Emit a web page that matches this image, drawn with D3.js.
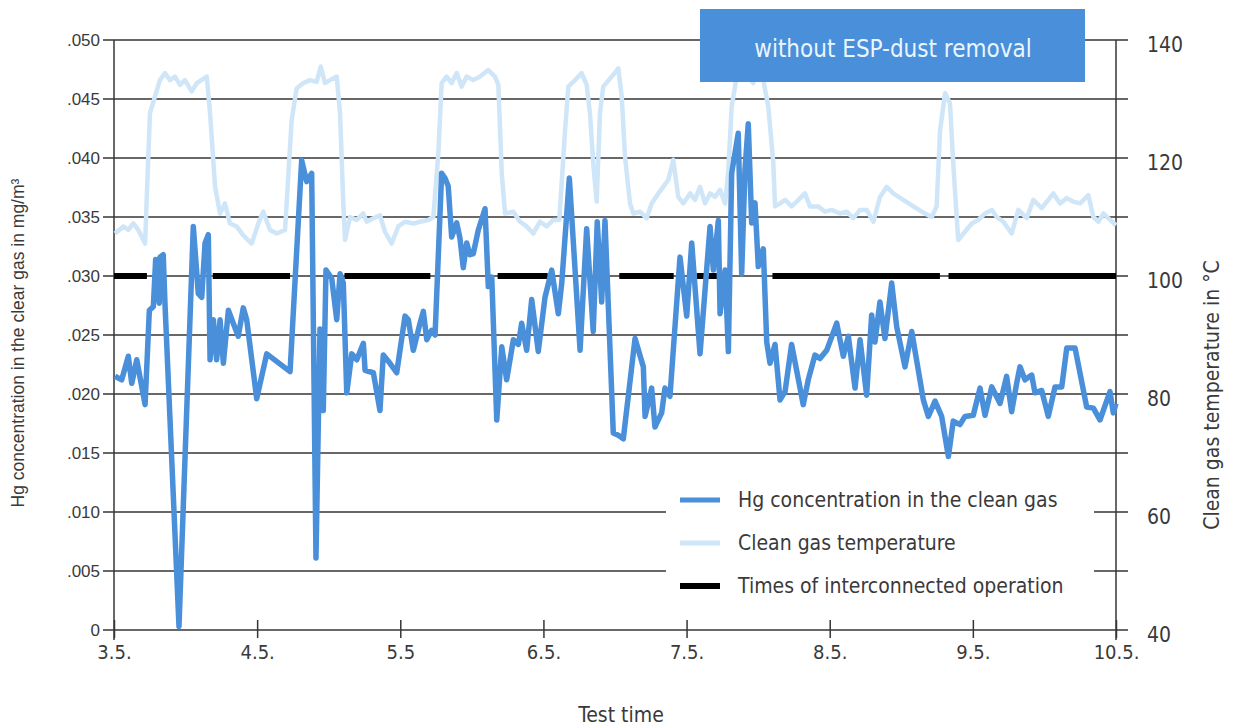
<!DOCTYPE html>
<html>
<head>
<meta charset="utf-8">
<script src="https://cdn.jsdelivr.net/npm/d3@7"></script>
<style>
  html, body { margin: 0; padding: 0; background: #fff; }
  .narrow { font-family: "Liberation Sans Narrow", "Arial Narrow", "DejaVu Sans Condensed", sans-serif; }
  .plain { font-family: "Liberation Sans", Arial, sans-serif; }
</style>
</head>
<body>
<div id="chart"></div>
<script>
// days of May (3.0 = 3 May 00:00)
const hgTime = [3.007, 3.054, 3.100, 3.124, 3.159, 3.217, 3.247, 3.275, 3.291, 3.316, 3.321, 3.344, 3.356, 3.454,
  3.554, 3.589, 3.613, 3.636, 3.659, 3.671, 3.694, 3.717, 3.741, 3.764, 3.799, 3.833, 3.868, 3.903, 3.927, 3.997,
  4.067, 4.230, 4.311, 4.346, 4.381, 4.411, 4.439, 4.462, 4.481, 4.521, 4.556, 4.579, 4.602, 4.626, 4.661, 4.696,
  4.742, 4.754, 4.812, 4.858, 4.881, 4.928, 4.975, 5.033, 5.056, 5.091, 5.138, 5.161, 5.185, 5.219, 5.243, 5.289,
  5.312, 5.335, 5.359, 5.394, 5.417, 5.440, 5.464, 5.487, 5.510, 5.545, 5.592, 5.615, 5.639, 5.674, 5.709, 5.743,
  5.790, 5.825, 5.848, 5.883, 5.918, 5.964, 6.011, 6.058, 6.104, 6.128, 6.181, 6.256, 6.302, 6.348, 6.376, 6.407,
  6.430, 6.488, 6.523, 6.558, 6.640, 6.698, 6.710, 6.756, 6.779, 6.826, 6.849, 6.884, 6.954, 7.001, 7.036, 7.094,
  7.164, 7.187, 7.222, 7.234, 7.269, 7.292, 7.315, 7.361, 7.385, 7.408, 7.431, 7.455, 7.478, 7.501, 7.536, 7.560,
  7.583, 7.618, 7.653, 7.688, 7.734, 7.815, 7.850, 7.897, 7.932, 7.979, 8.049, 8.095, 8.130, 8.177, 8.212, 8.258,
  8.293, 8.316, 8.351, 8.386, 8.433, 8.468, 8.526, 8.573, 8.654, 8.689, 8.736, 8.782, 8.829, 8.863, 8.910, 8.945,
  9.003, 9.050, 9.085, 9.132, 9.190, 9.236, 9.271, 9.306, 9.329, 9.364, 9.411, 9.434, 9.481, 9.527, 9.574, 9.621,
  9.656, 9.714, 9.795, 9.842, 9.888, 9.958, 9.981, 10.0];

// Hg in mg/m3
const hgValue = [0.0215, 0.0212, 0.0232, 0.0209, 0.0229, 0.0191, 0.0271, 0.0274, 0.0314, 0.0277, 0.0316, 0.0318, 0.0277, 0.0003,
  0.0342, 0.0285, 0.0282, 0.0328, 0.0335, 0.0229, 0.0263, 0.0229, 0.0263, 0.0226, 0.0271, 0.0260, 0.0249, 0.0273, 0.0263, 0.0196,
  0.0234, 0.0219, 0.0398, 0.0380, 0.0387, 0.0061, 0.0255, 0.0186, 0.0305, 0.0298, 0.0263, 0.0302, 0.0294, 0.0201, 0.0234, 0.0229,
  0.0243, 0.0220, 0.0218, 0.0186, 0.0233, 0.0226, 0.0218, 0.0266, 0.0263, 0.0237, 0.0260, 0.0270, 0.0246, 0.0254, 0.0250, 0.0387,
  0.0383, 0.0376, 0.0333, 0.0345, 0.0332, 0.0307, 0.0328, 0.0318, 0.0319, 0.0339, 0.0357, 0.0291, 0.0299, 0.0178, 0.0240, 0.0212,
  0.0246, 0.0242, 0.0260, 0.0237, 0.0280, 0.0236, 0.0282, 0.0305, 0.0268, 0.0294, 0.0383, 0.0237, 0.0340, 0.0253, 0.0346, 0.0278,
  0.0347, 0.0167, 0.0165, 0.0162, 0.0247, 0.0223, 0.0181, 0.0205, 0.0172, 0.0184, 0.0205, 0.0198, 0.0316, 0.0266, 0.0328, 0.0234,
  0.0342, 0.0305, 0.0347, 0.0268, 0.0305, 0.0236, 0.0387, 0.0421, 0.0302, 0.0390, 0.0429, 0.0345, 0.0362, 0.0308, 0.0323, 0.0244,
  0.0226, 0.0242, 0.0195, 0.0202, 0.0242, 0.0191, 0.0212, 0.0233, 0.0230, 0.0237, 0.0260, 0.0232, 0.0249, 0.0205, 0.0246, 0.0199,
  0.0267, 0.0244, 0.0278, 0.0247, 0.0294, 0.0257, 0.0223, 0.0253, 0.0195, 0.0181, 0.0194, 0.0181, 0.0147, 0.0177, 0.0174, 0.0181,
  0.0182, 0.0205, 0.0182, 0.0206, 0.0192, 0.0215, 0.0185, 0.0209, 0.0223, 0.0212, 0.0216, 0.0201, 0.0203, 0.0181, 0.0206, 0.0206,
  0.0239, 0.0239, 0.0189, 0.0188, 0.0178, 0.0202, 0.0184, 0.0192];

const tempTime = [3.007, 3.065, 3.100, 3.135, 3.170, 3.217, 3.251, 3.286, 3.321, 3.356, 3.391, 3.426, 3.461, 3.496,
  3.543, 3.578, 3.648, 3.671, 3.706, 3.741, 3.775, 3.810, 3.857, 3.903, 3.962, 4.008, 4.043, 4.090, 4.137, 4.195,
  4.241, 4.276, 4.322, 4.369, 4.416, 4.444, 4.474, 4.509, 4.556, 4.579, 4.602, 4.614, 4.649, 4.696, 4.742, 4.765,
  4.812, 4.858, 4.893, 4.940, 4.986, 5.033, 5.091, 5.138, 5.196, 5.231, 5.266, 5.289, 5.324, 5.359, 5.394, 5.429,
  5.464, 5.510, 5.557, 5.615, 5.662, 5.685, 5.709, 5.732, 5.790, 5.836, 5.883, 5.929, 5.976, 6.023, 6.069, 6.111,
  6.151, 6.174, 6.221, 6.267, 6.302, 6.325, 6.348, 6.372, 6.395, 6.418, 6.488, 6.523, 6.547, 6.570, 6.605, 6.628,
  6.675, 6.721, 6.756, 6.803, 6.837, 6.872, 6.907, 6.942, 6.977, 7.024, 7.059, 7.094, 7.129, 7.164, 7.199, 7.234,
  7.269, 7.292, 7.315, 7.350, 7.396, 7.431, 7.466, 7.508, 7.536, 7.571, 7.606, 7.618, 7.653, 7.688, 7.734, 7.769,
  7.827, 7.862, 7.920, 7.967, 8.014, 8.072, 8.119, 8.165, 8.212, 8.258, 8.305, 8.351, 8.398, 8.444, 8.514, 8.584,
  8.643, 8.713, 8.747, 8.771, 8.806, 8.840, 8.863, 8.887, 8.898, 8.945, 8.992, 9.038, 9.085, 9.132, 9.167, 9.213,
  9.271, 9.318, 9.376, 9.422, 9.481, 9.527, 9.562, 9.609, 9.656, 9.702, 9.749, 9.807, 9.842, 9.877, 9.912, 9.946, 10.0];

// clean gas temperature in degC
const tempValue = [107.2, 108.4, 107.8, 108.9, 107.8, 105.5, 127.6, 130.4, 133.2, 134.4, 133.2, 133.8, 132.4, 133.2,
  131.3, 132.7, 133.8, 127.6, 115.1, 110.6, 112.3, 108.9, 108.4, 106.9, 105.5, 108.9, 110.9, 107.8, 107.2, 107.8,
  126.4, 131.8, 132.7, 133.2, 132.9, 135.5, 132.7, 133.2, 133.8, 127.6, 112.3, 106.1, 110.0, 109.5, 110.6, 109.2,
  109.8, 110.3, 107.5, 105.5, 108.4, 109.2, 108.9, 109.2, 109.5, 110.0, 120.8, 132.7, 133.8, 132.7, 134.4, 132.1,
  133.8, 133.2, 133.8, 134.9, 133.8, 132.4, 117.4, 110.6, 110.9, 109.2, 108.4, 107.2, 109.2, 108.4, 109.5, 109.5,
  124.7, 132.1, 133.2, 134.4, 132.4, 127.6, 119.1, 112.6, 127.6, 132.1, 134.1, 135.2, 130.4, 120.2, 112.3, 110.6,
  110.9, 109.8, 112.3, 114.0, 115.1, 116.3, 119.7, 113.4, 112.3, 114.0, 112.9, 115.1, 112.3, 114.0, 113.4, 114.6,
  112.3, 118.0, 128.7, 133.8, 136.6, 133.8, 132.7, 135.5, 133.2, 128.7, 119.1, 111.8, 112.3, 112.9, 111.8, 112.6,
  114.0, 111.8, 111.8, 110.9, 111.2, 110.6, 110.9, 109.8, 111.2, 111.2, 109.2, 113.4, 115.1, 114.0, 112.9, 111.8,
  110.9, 110.0, 111.8, 124.7, 131.0, 129.3, 119.1, 110.0, 106.1, 107.5, 108.9, 109.5, 110.6, 111.2, 110.0, 109.2,
  107.2, 111.2, 109.8, 112.9, 111.5, 112.9, 114.0, 112.3, 113.2, 112.6, 112.3, 113.7, 110.0, 109.2, 110.6, 109.8, 108.6];

// times of interconnected operation
const opStart = [3.0, 3.69, 4.61, 5.68, 6.53, 7.07, 7.60, 8.83];
const opEnd = [3.23, 4.23, 5.21, 6.03, 6.91, 7.23, 8.77, 10.0];

const xTicks = [3, 4, 5, 6, 7, 8, 9, 10];
const xTickLabels = ['3.5.', '4.5.', '5.5', '6.5.', '7.5.', '8.5.', '9.5.', '10.5.'];
const hgTicks = [0, 0.005, 0.010, 0.015, 0.020, 0.025, 0.030, 0.035, 0.040, 0.045, 0.050];
const hgTickLabels = ['0', '.005', '.010', '.015', '.020', '.025', '.030', '.035', '.040', '.045', '.050'];
const tempTicks = [40, 50, 60, 70, 80, 90, 100, 110, 120, 130, 140];
const tempTickLabels = ['40', '', '60', '', '80', '', '100', '', '120', '', '140'];

const legendNames = ['Hg concentration in the clean gas', 'Clean gas temperature', 'Times of interconnected operation'];

const hgColor = '#4a8fda', tempColor = '#cfe5f8', opColor = '#000000', gridColor = '#363636';

const margin = {left: 114, right: 121, top: 40, bottom: 97};
const width = 1237 - margin.left - margin.right,
  height = 727 - margin.top - margin.bottom;

const svg = d3.select('#chart').append('svg')
  .attr('width', 1237)
  .attr('height', 727);

const g = svg.append('g')
  .attr('transform', `translate(${margin.left},${margin.top})`);

const x = d3.scaleLinear().domain([3, 10]).range([0, width]);
const yHg = d3.scaleLinear().domain([0, 0.05]).range([height, 0]);
const yTemp = d3.scaleLinear().domain([40, 140]).range([height, 0]);

// horizontal grid, running through both axes
g.append('g')
  .selectAll('line')
  .data(hgTicks)
  .enter()
  .append('line')
  .attr('x1', -11)
  .attr('x2', width + 12)
  .attr('y1', d => yHg(d))
  .attr('y2', d => yHg(d))
  .attr('stroke', gridColor)
  .attr('stroke-width', 1.5);

// left axis
const leftAxis = g.append('g')
  .attr('class', 'plain')
  .call(d3.axisLeft(yHg).tickValues(hgTicks).tickSize(0).tickPadding(14)
    .tickFormat((d, i) => hgTickLabels[i]));
leftAxis.select('.domain').remove();
leftAxis.selectAll('text')
  .style('font-size', '17px')
  .attr('fill', '#3a3a3a');

// right axis
const rightAxis = g.append('g')
  .attr('class', 'narrow')
  .attr('transform', `translate(${width},0)`)
  .call(d3.axisRight(yTemp).tickValues(tempTicks).tickSize(0).tickPadding(31)
    .tickFormat((d, i) => tempTickLabels[i]));
rightAxis.select('.domain').remove();
rightAxis.selectAll('text')
  .attr('dy', '0.55em')
  .style('font-size', '21px')
  .attr('fill', '#3a3a3a');

// bottom axis
const bottomAxis = g.append('g')
  .attr('class', 'narrow')
  .attr('transform', `translate(0,${height})`)
  .call(d3.axisBottom(x).tickValues(xTicks).tickSizeOuter(0).tickPadding(9)
    .tickFormat((d, i) => xTickLabels[i]));
bottomAxis.select('.domain').remove();
bottomAxis.selectAll('.tick line')
  .attr('y1', -10)
  .attr('y2', 8)
  .attr('stroke', gridColor)
  .attr('stroke-width', 1.5);
bottomAxis.selectAll('text')
  .style('font-size', '20px')
  .attr('fill', '#3a3a3a');

// axis lines
g.append('line')
  .attr('x1', 0).attr('x2', 0)
  .attr('y1', 0).attr('y2', height + 10)
  .attr('stroke', gridColor).attr('stroke-width', 1.5);
g.append('line')
  .attr('x1', width).attr('x2', width)
  .attr('y1', 0).attr('y2', height + 10)
  .attr('stroke', gridColor).attr('stroke-width', 1.5);

// axis titles
svg.append('text')
  .attr('class', 'plain')
  .attr('transform', `translate(24,${margin.top + height / 2 + 8}) rotate(-90)`)
  .attr('text-anchor', 'middle')
  .style('font-size', '17.5px')
  .attr('fill', '#3a3a3a')
  .text('Hg concentration in the clear gas in mg/m³');

svg.append('text')
  .attr('class', 'narrow')
  .attr('transform', `translate(1219,${margin.top + height / 2 + 60}) rotate(-90)`)
  .attr('text-anchor', 'middle')
  .style('font-size', '21px')
  .attr('fill', '#3a3a3a')
  .text('Clean gas temperature in °C');

svg.append('text')
  .attr('class', 'narrow')
  .attr('x', 621)
  .attr('y', 722)
  .attr('text-anchor', 'middle')
  .style('font-size', '21px')
  .attr('fill', '#3a3a3a')
  .text('Test time');

// note box
svg.append('rect')
  .attr('x', 700).attr('y', 9)
  .attr('width', 385).attr('height', 73)
  .attr('fill', '#4a8fda');
svg.append('text')
  .attr('class', 'narrow')
  .attr('x', 893)
  .attr('y', 57)
  .attr('text-anchor', 'middle')
  .style('font-size', '24px')
  .attr('fill', '#eaf6ff')
  .text('without ESP-dust removal');

// legend (white panel hides the grid)
const legend = svg.append('g');
legend.append('rect')
  .attr('x', 666).attr('y', 470)
  .attr('width', 428).attr('height', 140)
  .attr('fill', '#fff');
const legendColors = [hgColor, tempColor, opColor];
const legendY = [500, 543, 586];
legendNames.forEach((name, i) => {
  legend.append('line')
    .attr('x1', 680).attr('x2', 720)
    .attr('y1', legendY[i]).attr('y2', legendY[i])
    .attr('stroke', legendColors[i])
    .attr('stroke-width', i === 2 ? 6 : 5);
  legend.append('text')
    .attr('class', 'narrow')
    .attr('x', 738)
    .attr('y', legendY[i] + 7)
    .style('font-size', '21px')
    .attr('fill', '#3a3a3a')
    .text(name);
});

// interconnected operation
g.append('g')
  .selectAll('line')
  .data(opStart.map((s, i) => ({s, e: opEnd[i]})))
  .enter()
  .append('line')
  .attr('x1', d => x(d.s))
  .attr('x2', d => x(d.e))
  .attr('y1', yTemp(100))
  .attr('y2', yTemp(100))
  .attr('stroke', opColor)
  .attr('stroke-width', 6);

const tempData = tempTime.map((t, i) => ({t, v: tempValue[i]}));
const hgData = hgTime.map((t, i) => ({t, v: hgValue[i]}));

g.append('path')
  .datum(tempData)
  .attr('d', d3.line().x(d => x(d.t)).y(d => yTemp(d.v)))
  .attr('fill', 'none')
  .attr('stroke', tempColor)
  .attr('stroke-width', 4.5)
  .attr('stroke-linejoin', 'round');

g.append('path')
  .datum(hgData)
  .attr('d', d3.line().x(d => x(d.t)).y(d => yHg(d.v)))
  .attr('fill', 'none')
  .attr('stroke', hgColor)
  .attr('stroke-width', 5.5)
  .attr('stroke-linejoin', 'round');
</script>
</body>
</html>
